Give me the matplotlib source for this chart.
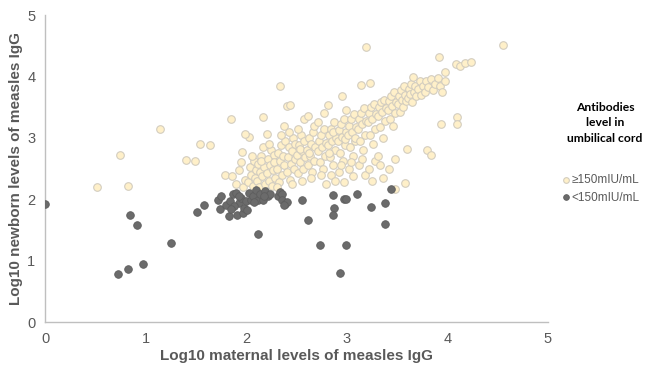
import matplotlib
matplotlib.use("Agg")
import matplotlib.pyplot as plt

# cord antibodies >= 150 mIU/mL (log10 maternal, log10 newborn)
high_pts = [
    (0.52, 2.20), (0.75, 2.72), (0.83, 2.21), (1.14, 3.14), (1.40, 2.64), (1.49, 2.62),
    (1.54, 2.90), (1.64, 2.88), (1.85, 3.31), (1.79, 2.40),
    (1.86, 2.38), (1.90, 2.25), (1.93, 2.47), (1.97, 2.20), (1.99, 2.32), (1.95, 2.60), (1.96, 2.77),
    (2.02, 2.28), (2.04, 2.52), (2.05, 2.40), (2.07, 2.22), (2.08, 2.62), (2.09, 2.35), (2.06, 2.70),
    (2.03, 3.01), (1.99, 3.06), (2.10, 2.48),
    (2.11, 2.30), (2.12, 2.58), (2.13, 2.20), (2.14, 2.45), (2.15, 2.70), (2.16, 2.38), (2.17, 2.85),
    (2.18, 2.52), (2.19, 2.25), (2.17, 3.34), (2.15, 2.62),
    (2.21, 2.42), (2.22, 2.66), (2.23, 2.30), (2.24, 2.55), (2.25, 2.80), (2.26, 2.22), (2.27, 2.48),
    (2.28, 2.72), (2.29, 2.35), (2.23, 2.90), (2.28, 2.60), (2.21, 3.06),
    (2.31, 2.50), (2.32, 2.75), (2.33, 2.28), (2.34, 2.62), (2.35, 2.88), (2.36, 2.40), (2.37, 2.70),
    (2.38, 2.55), (2.39, 2.95), (2.34, 3.84), (2.35, 3.05), (2.31, 2.20), (2.38, 3.20),
    (2.41, 2.45), (2.42, 2.68), (2.43, 2.85), (2.44, 2.32), (2.45, 2.58), (2.46, 2.78), (2.47, 3.00),
    (2.48, 2.50), (2.49, 2.65), (2.41, 3.52), (2.44, 3.53), (2.43, 3.10), (2.46, 2.25), (2.49, 2.90),
    (2.51, 2.72), (2.52, 2.42), (2.53, 2.88), (2.54, 2.60), (2.55, 3.05), (2.56, 2.78), (2.57, 2.50),
    (2.58, 2.95), (2.59, 2.68), (2.52, 3.15), (2.56, 2.30), (2.58, 3.30), (2.54, 2.82),
    (2.61, 2.80), (2.62, 2.55), (2.63, 3.00), (2.64, 2.70), (2.65, 2.90), (2.66, 2.45), (2.67, 3.10),
    (2.68, 2.62), (2.69, 2.85), (2.62, 3.35), (2.65, 2.35), (2.68, 3.20), (2.63, 2.75),
    (2.71, 2.78), (2.72, 2.95), (2.73, 2.60), (2.74, 3.05), (2.75, 2.85), (2.76, 2.50), (2.77, 3.15),
    (2.78, 2.70), (2.79, 2.92), (2.71, 3.25), (2.74, 2.40), (2.77, 3.40), (2.79, 2.25),
    (2.81, 2.88), (2.82, 3.05), (2.83, 2.68), (2.84, 3.15), (2.85, 2.95), (2.86, 2.55), (2.87, 3.25),
    (2.88, 2.80), (2.89, 3.00), (2.81, 3.53), (2.84, 2.40), (2.88, 2.30), (2.86, 3.10), (2.82, 2.75),
    (2.91, 2.95), (2.92, 3.12), (2.93, 2.75), (2.94, 3.22), (2.95, 3.02), (2.96, 2.62), (2.97, 3.30),
    (2.98, 2.88), (2.99, 3.10), (2.95, 3.68), (2.99, 3.45), (2.92, 2.45), (2.97, 2.28), (2.94, 2.55),
    (2.98, 2.98),
    (3.01, 3.05), (3.02, 3.20), (3.03, 2.85), (3.04, 3.30), (3.05, 3.10), (3.06, 2.70), (3.07, 3.38),
    (3.08, 2.95), (3.09, 3.18), (3.02, 2.50), (3.06, 2.38), (3.08, 3.00), (3.04, 2.60),
    (3.11, 3.15), (3.12, 3.30), (3.13, 2.95), (3.14, 3.40), (3.15, 3.22), (3.16, 2.80), (3.17, 3.48),
    (3.18, 3.05), (3.19, 3.28), (3.14, 3.86), (3.19, 4.48), (3.12, 2.55), (3.18, 2.40), (3.15, 2.65),
    (3.21, 3.25), (3.22, 3.40), (3.23, 3.05), (3.24, 3.50), (3.25, 3.30), (3.26, 2.90), (3.27, 3.55),
    (3.28, 3.15), (3.29, 3.38), (3.23, 3.89), (3.22, 2.50), (3.28, 2.62), (3.25, 2.30),
    (3.31, 3.35), (3.32, 3.50), (3.33, 3.18), (3.34, 3.58), (3.35, 3.42), (3.36, 3.00), (3.37, 3.62),
    (3.38, 3.28), (3.39, 3.48), (3.33, 2.55), (3.36, 2.35), (3.31, 2.70),
    (3.41, 3.45), (3.42, 3.60), (3.43, 3.30), (3.44, 3.68), (3.45, 3.52), (3.46, 3.20), (3.47, 3.75),
    (3.48, 3.40), (3.49, 3.58), (3.42, 2.49), (3.48, 2.66), (3.48, 2.17),
    (3.51, 3.55), (3.52, 3.68), (3.53, 3.42), (3.54, 3.78), (3.55, 3.62), (3.56, 3.50), (3.57, 3.85),
    (3.58, 3.70), (3.59, 3.60), (3.58, 2.26), (3.60, 2.82),
    (3.61, 3.65), (3.62, 3.80), (3.63, 3.72), (3.64, 3.88), (3.65, 3.58), (3.66, 3.99), (3.67, 3.75),
    (3.68, 3.85), (3.69, 3.68),
    (3.71, 3.80), (3.73, 3.92), (3.74, 3.70), (3.76, 3.85), (3.78, 3.75), (3.79, 3.92), (3.80, 2.80),
    (3.81, 3.82), (3.84, 3.96), (3.86, 3.78), (3.88, 3.88), (3.91, 3.97), (3.93, 3.85), (3.95, 3.75),
    (3.98, 3.92), (3.98, 4.07), (3.84, 2.72), (3.92, 4.32), (3.94, 3.22),
    (4.09, 4.20), (4.13, 4.17), (4.18, 4.22), (4.24, 4.24), (4.10, 3.34), (4.10, 3.22), (4.55, 4.51),
]

# cord antibodies < 150 mIU/mL
low_pts = [
    (0.00, 1.93), (0.85, 1.74), (0.91, 1.58), (1.25, 1.28), (0.73, 0.78), (0.83, 0.86), (0.97, 0.95),
    (1.51, 1.80), (1.58, 1.90),
    (1.72, 1.99), (1.75, 2.06), (1.74, 1.84), (1.80, 1.91), (1.83, 1.72), (1.84, 1.97), (1.87, 2.08),
    (1.90, 2.10), (1.91, 1.75), (1.93, 1.94), (1.95, 2.02), (1.97, 1.78), (1.98, 1.86), (2.00, 1.97),
    (2.03, 2.10), (2.05, 1.99), (2.07, 2.05), (2.10, 2.15), (2.12, 1.99), (2.14, 2.08), (2.17, 1.99),
    (2.19, 2.13), (2.22, 2.05), (2.24, 2.09), (2.32, 2.05), (2.34, 2.11), (2.36, 2.09), (2.36, 1.99),
    (2.39, 1.93), (2.41, 1.96), (2.38, 1.90), (1.88, 1.89), (2.01, 1.83), (2.08, 1.95), (1.93, 2.05),
    (1.85, 1.84), (2.18, 2.05),
    (2.56, 1.98), (2.62, 1.67), (2.73, 1.26), (2.12, 1.44), (2.99, 1.25), (2.93, 0.80),
    (2.86, 2.07), (2.97, 2.01), (2.99, 2.01), (2.87, 1.85), (2.86, 1.75), (3.10, 2.08),
    (3.24, 1.87), (3.38, 1.94), (3.38, 1.60), (3.44, 2.16),
]

high_x = [p[0] for p in high_pts]
high_y = [p[1] for p in high_pts]
low_x = [p[0] for p in low_pts]
low_y = [p[1] for p in low_pts]

plt.rcParams['font.family'] = ['Liberation Sans', 'DejaVu Sans']

fig = plt.figure(figsize=(6.47, 3.66), dpi=100)
ax = fig.add_axes([0.0696, 0.120, 0.777, 0.839])

ax.scatter(high_x, high_y, s=30, facecolor='#FFF0C9', edgecolor='#D3CDBF',
           linewidth=0.8, label='\u2265150mIU/mL', zorder=2)
ax.scatter(low_x, low_y, s=30, facecolor='#6B6B6B', edgecolor='#5E5E5E',
           linewidth=0.6, label='<150mIU/mL', zorder=3)

ax.set_xlim(0, 5)
ax.set_ylim(0, 5)
ax.set_xticks([0, 1, 2, 3, 4, 5])
ax.set_yticks([0, 1, 2, 3, 4, 5])
ax.tick_params(length=0, labelsize=10.5, labelcolor='#595959', pad=7)
for s in ['top', 'right']:
    ax.spines[s].set_visible(False)
for s in ['left', 'bottom']:
    ax.spines[s].set_color('#BFBFBF')
    ax.spines[s].set_linewidth(1)

ax.set_xlabel('Log10 maternal levels of measles IgG', fontsize=11,
              fontweight='bold', color='#595959', labelpad=2)
ax.set_ylabel('Log10 newborn levels of measles IgG', fontsize=11,
              fontweight='bold', color='#595959', labelpad=3)

fig.text(0.935, 0.664, 'Antibodies\nlevel in\numbilical cord', ha='center', va='center',
         fontsize=8.7, fontweight='bold', family=['Lato', 'DejaVu Sans'],
         color='black', linespacing=1.45)

ax.legend(loc='upper left', bbox_to_anchor=(0.86, 0.54), bbox_transform=fig.transFigure,
          frameon=False, fontsize=8.5, labelcolor='#595959', handletextpad=0.05,
          handlelength=0.7, borderpad=0, labelspacing=0.45, markerscale=0.75)

plt.savefig('out.png', dpi=100)
plt.close()
